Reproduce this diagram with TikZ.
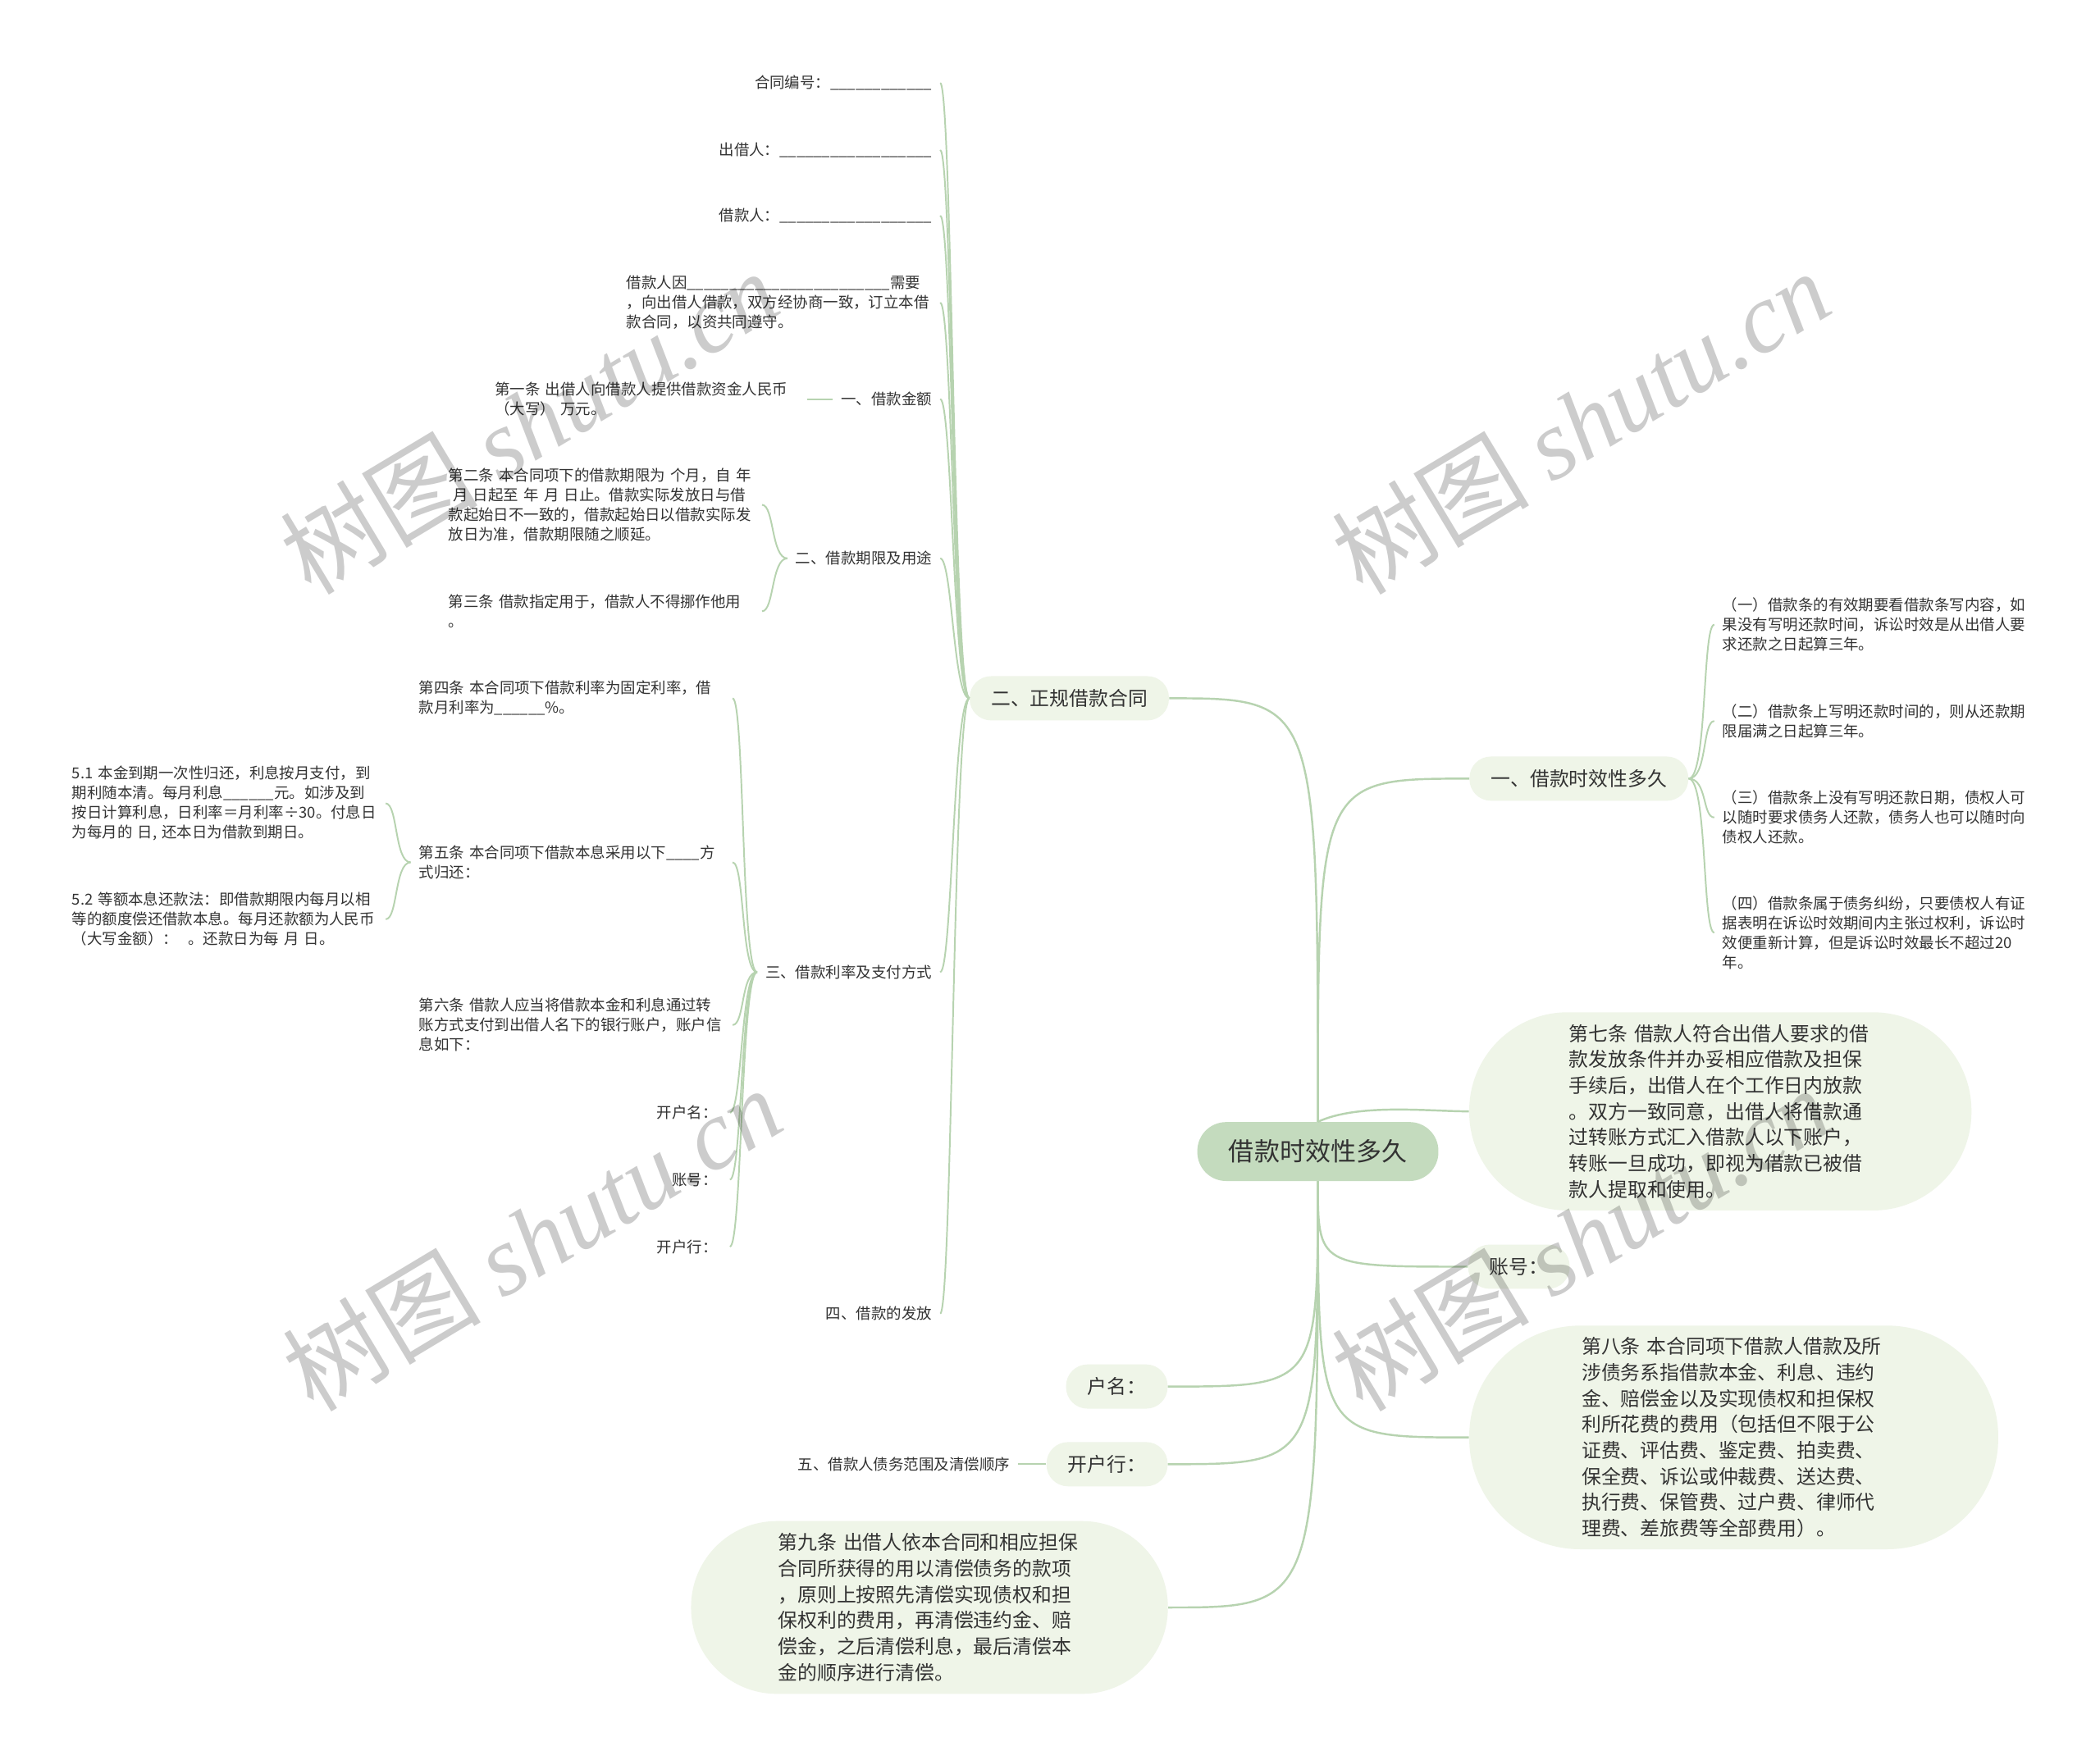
\documentclass[tikz,border=0pt]{standalone}
\usepackage{fontspec}
\setmainfont{Noto Sans CJK SC}
\newfontfamily\wmserif{Liberation Serif}
\usetikzlibrary{positioning}

\definecolor{inkgray}{HTML}{333333}
\definecolor{wiregreen}{HTML}{B7D3B0}
\definecolor{leafgreen}{HTML}{EFF5E8}
\definecolor{coregreen}{HTML}{C4DBBE}

\newcommand\notefont{\fontsize{11.3pt}{14.7pt}\selectfont}
\newcommand\bubblefont{\fontsize{14.6pt}{19.4pt}\selectfont}
\newcommand\hubfont{\fontsize{19pt}{23pt}\selectfont}
\newcommand\wmfont{\fontsize{74pt}{74pt}\selectfont}

\begin{document}
\catcode`\_=12
\begin{tikzpicture}[
  x=1pt, y=-1pt,
  every node/.style={text=inkgray},
  hub/.style={fill=coregreen, font=\hubfont, minimum width=180pt, minimum height=44pt, rounded corners=21.5pt, inner sep=0pt},
  tag/.style={fill=leafgreen, font=\bubblefont, minimum height=33pt, rounded corners=16pt, inner xsep=16pt, inner ysep=0pt},
  card/.style={fill=leafgreen, font=\bubblefont, align=left, inner sep=0pt},
  note/.style={font=\notefont, inner xsep=6pt, inner ysep=2pt},
  para/.style={note, align=left},
  trunk/.style={draw=wiregreen, line width=1.5pt},
  link/.style={draw=wiregreen, line width=1.2pt},
  wmark/.style={font=\wmfont, text=black, text opacity=0.2, rotate=31}
]
  \fill[white] (0,0) rectangle (1568,1314);
  \useasboundingbox (0,0) rectangle (1568,1314);

  % centre and first ring
  \node[hub] (root) at (984,860) {借款时效性多久};
  \node[tag, anchor=east] (contract) at (873,521.5) {二、正规借款合同};
  \node[tag, anchor=west] (limit) at (1097,581.5) {一、借款时效性多久};
  \node[card, text width=226pt, minimum width=375pt, minimum height=148pt, rounded corners=73.5pt] (art7) at (1284.5,830)
    {第七条 借款人符合出借人要求的借\\款发放条件并办妥相应借款及担保\\手续后，出借人在个工作日内放款\\。双方一致同意，出借人将借款通\\过转账方式汇入借款人以下账户，\\转账一旦成功，即视为借款已被借\\款人提取和使用。};
  \node[tag, anchor=west] (rootNo) at (1096,946) {账号：};
  \node[card, text width=227pt, minimum width=395pt, minimum height=167pt, rounded corners=83pt] (art8) at (1294.5,1073.5)
    {第八条 本合同项下借款人借款及所\\涉债务系指借款本金、利息、违约\\金、赔偿金以及实现债权和担保权\\利所花费的费用（包括但不限于公\\证费、评估费、鉴定费、拍卖费、\\保全费、诉讼或仲裁费、送达费、\\执行费、保管费、过户费、律师代\\理费、差旅费等全部费用）。};
  \node[tag, anchor=east] (rootName) at (872,1035.5) {户名：};
  \node[tag, anchor=east] (rootBank) at (872,1093.5) {开户行：};
  \node[card, text width=226pt, minimum width=356pt, minimum height=129pt, rounded corners=64pt] (art9) at (694,1200.5)
    {第九条 出借人依本合同和相应担保\\合同所获得的用以清偿债务的款项\\，原则上按照先清偿实现债权和担\\保权利的费用，再清偿违约金、赔\\偿金，之后清偿利息，最后清偿本\\金的顺序进行清偿。};
  \node[note, left=21pt of rootBank] (debt) {五、借款人债务范围及清偿顺序};

  % contract items
  \node[note, anchor=east] (cNo) at (702,62) {合同编号：____________};
  \node[note, anchor=east] (cLender) at (702,112) {出借人：__________________};
  \node[note, anchor=east] (cBorrower) at (702,161) {借款人：__________________};
  \node[para, anchor=east, text width=228pt] (cPre) at (702,226)
    {借款人因________________________需要\\，向出借人借款，双方经协商一致，订立本借\\款合同，以资共同遵守。};
  \node[note, anchor=east] (cAmount) at (702,298) {一、借款金额};
  \node[para, left=19pt of cAmount, text width=227pt] (art1)
    {第一条 出借人向借款人提供借款资金人民币\\（大写） 万元。};
  \node[note, anchor=east] (cTerm) at (702,417) {二、借款期限及用途};
  \node[para, anchor=east, text width=228pt] (art2) at (569,377)
    {第二条 本合同项下的借款期限为 个月，自 年\\\hspace*{3.5pt}月 日起至 年 月 日止。借款实际发放日与借\\款起始日不一致的，借款起始日以借款实际发\\放日为准，借款期限随之顺延。};
  \node[para, anchor=east, text width=228pt] (art3) at (569,456.5)
    {第三条 借款指定用于，借款人不得挪作他用\\。};
  \node[note, anchor=east] (cRate) at (702,726) {三、借款利率及支付方式};
  \node[para, anchor=east, text width=228pt] (art4) at (547,521.5)
    {第四条 本合同项下借款利率为固定利率，借\\款月利率为______\%。};
  \node[para, anchor=east, text width=228pt] (art5) at (547,644)
    {第五条 本合同项下借款本息采用以下____方\\式归还：};
  \node[para, anchor=east, text width=228pt] (art51) at (288,600)
    {5.1 本金到期一次性归还，利息按月支付，到\\期利随本清。每月利息______元。如涉及到\\按日计算利息，日利率＝月利率÷30。付息日\\为每月的 日, 还本日为借款到期日。};
  \node[para, anchor=east, text width=228pt] (art52) at (288,686.5)
    {5.2 等额本息还款法：即借款期限内每月以相\\等的额度偿还借款本息。每月还款额为人民币\\（大写金额）：\ \ 。还款日为每 月 日。};
  \node[para, anchor=east, text width=228pt] (art6) at (547,765.5)
    {第六条 借款人应当将借款本金和利息通过转\\账方式支付到出借人名下的银行账户，账户信\\息如下：};
  \node[note, anchor=east, inner xsep=9pt] (acctName) at (545,831) {开户名：};
  \node[note, anchor=east, inner xsep=9pt] (acctNo) at (545,881) {账号：};
  \node[note, anchor=east, inner xsep=9pt] (acctBank) at (545,931) {开户行：};
  \node[note, anchor=east] (cIssue) at (702,981) {四、借款的发放};

  % limitation items
  \node[para, anchor=west, text width=240pt] (rule1) at (1280,466.5)
    {（一）借款条的有效期要看借款条写内容，如\\果没有写明还款时间，诉讼时效是从出借人要\\求还款之日起算三年。};
  \node[para, anchor=west, text width=240pt] (rule2) at (1280,538.5)
    {（二）借款条上写明还款时间的，则从还款期\\限届满之日起算三年。};
  \node[para, anchor=west, text width=240pt] (rule3) at (1280,610.5)
    {（三）借款条上没有写明还款日期，债权人可\\以随时要求债务人还款，债务人也可以随时向\\债权人还款。};
  \node[para, anchor=west, text width=240pt] (rule4) at (1280,696.5)
    {（四）借款条属于债务纠纷，只要债权人有证\\据表明在诉讼时效期间内主张过权利，诉讼时\\效便重新计算，但是诉讼时效最长不超过20\\年。};

  % connectors from the centre
  \draw[trunk] (root.north) .. controls (root.north |- contract.east) .. (contract.east);
  \draw[trunk] (root.north) .. controls (root.north |- limit.west) .. (limit.west);
  \draw[trunk] (root.north) .. controls +(30,-14) and +(-30,0) .. (art7.west);
  \foreach \kid in {rootName, rootBank, art9}
    \draw[trunk] (root.south) .. controls (root.south |- \kid.east) .. (\kid.east);
  \foreach \kid in {rootNo, art8}
    \draw[trunk] (root.south) .. controls (root.south |- \kid.west) .. (\kid.west);

  % branch connectors
  \foreach \kid in {cNo, cLender, cBorrower, cPre, cAmount, cTerm, cRate, cIssue}
    \draw[link] (contract.west) .. controls +(-12,0) and +(9,0) .. (\kid.east);
  \draw[link] (cAmount.west) -- (art1.east);
  \foreach \kid in {art2, art3}
    \draw[link] (cTerm.west) .. controls +(-12,0) and +(9,0) .. (\kid.east);
  \foreach \kid in {art4, art5, art6, acctName, acctNo, acctBank}
    \draw[link] (cRate.west) .. controls +(-12,0) and +(9,0) .. (\kid.east);
  \foreach \kid in {art51, art52}
    \draw[link] (art5.west) .. controls +(-12,0) and +(9,0) .. (\kid.east);
  \foreach \kid in {rule1, rule2, rule3, rule4}
    \draw[link] (limit.east) .. controls +(14,0) and +(-9,0) .. (\kid.west);
  \draw[link] (rootBank.west) -- (debt.east);

  % watermarks
  \node[wmark] (wm1) at (395,315) {树图 {\wmserif\itshape shutu.cn}};
  \node[wmark] (wm2) at (1180,315) {树图 {\wmserif\itshape shutu.cn}};
  \node[wmark] (wm3) at (397,925) {树图 {\wmserif\itshape shutu.cn}};
  \node[wmark] (wm4) at (1180,925) {树图 {\wmserif\itshape shutu.cn}};
\end{tikzpicture}
\end{document}
